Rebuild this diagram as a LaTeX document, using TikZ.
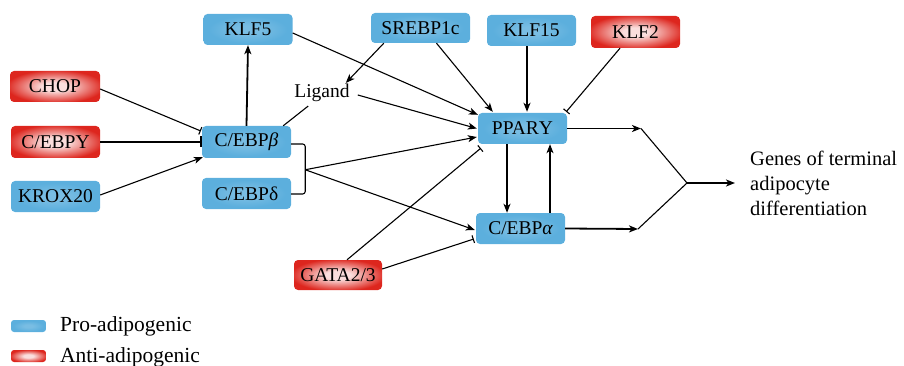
\documentclass[tikz,border=0pt]{standalone}
\usepackage{fontspec}
\setmainfont{Liberation Serif}
\usetikzlibrary{arrows.meta,calc}
\definecolor{myblue}{RGB}{92,175,221}
\definecolor{myred}{RGB}{221,38,30}
\colorlet{blueglowc}{myblue!82!white}
\colorlet{redglowc}{myred!15!white}
\pgfdeclareradialshading{bglow}{\pgfpoint{0bp}{0bp}}{color(0bp)=(blueglowc); color(6bp)=(blueglowc); color(22bp)=(myblue); color(50bp)=(myblue)}
\pgfdeclareradialshading{rglow}{\pgfpoint{0bp}{0bp}}{color(0bp)=(redglowc); color(7bp)=(redglowc); color(27bp)=(myred); color(50bp)=(myred)}
\newcommand\myNodeFont{\fontsize{19.5}{21}\selectfont}
\newcommand\myTextFont{\fontsize{20.5}{25}\selectfont}
\newcommand\myLegFont{\fontsize{21.5}{25}\selectfont}
\begin{document}
\begin{tikzpicture}[x=1pt,y=-1pt,
  boxbase/.style={rounded corners=4pt, inner sep=0pt, text=black, font=\myNodeFont,
                  minimum width=89pt, minimum height=31pt},
  pro/.style={boxbase, shade, shading=bglow},
  anti/.style={boxbase, shade, shading=rglow},
  plain/.style={line width=1.1pt},
  act/.style={-{Stealth[length=9pt,width=7pt,inset=2.5pt]}, line width=1.1pt},
  actthick/.style={-{Stealth[length=9pt,width=7pt,inset=2.5pt]}, line width=1.8pt},
  inh/.style={-{Bar[width=8pt,line width=1.1pt]}, line width=1.1pt},
  inhthick/.style={-{Bar[width=11pt,line width=1.8pt]}, line width=1.8pt}
]
\useasboundingbox (0,0) rectangle (904,366);

% nodes
\node[pro] (klf5) at (248,29.5) {KLF5};
\node[pro, minimum width=99pt, minimum height=30pt] (srebp) at (420.5,28) {SREBP1c};
\node[pro] (klf15) at (531.5,30.5) {KLF15};
\node[anti, minimum height=32pt] (klf2) at (635.5,32) {KLF2};
\node[anti, minimum width=90pt] (chop) at (55,86.5) {CHOP};
\node[anti, minimum height=32pt] (cebpg) at (55.5,142) {C/EBPΥ};
\node[pro] (krox) at (55.5,196.5) {KROX20};
\node[pro, minimum height=32pt] (cebpb) at (246.5,142) {C/EBP{\itshape β}};
\node[pro] (cebpd) at (246.5,193.5) {C/EBPδ};
\node[pro] (ppar) at (522.5,128.5) {PPARΥ};
\node[pro] (cebpa) at (520.5,228.5) {C/EBP{\itshape α}};
\node[anti, minimum width=88pt, minimum height=30pt] (gata) at (338,275) {GATA2/3};
\node[font=\myNodeFont, inner sep=0pt] (ligand) at (322,93) {Ligand};
\node[font=\myTextFont, inner sep=0pt, anchor=west, align=left] (genes) at (750,183)
  {Genes of terminal\\adipocyte\\differentiation};

% legend
\node[pro, minimum width=35pt, minimum height=12pt, rounded corners=3pt] (lp) at (28.5,326) {};
\node[anti, minimum width=35pt, minimum height=12pt, rounded corners=3pt] (la) at (28.5,356) {};
\node[font=\myLegFont, inner sep=0pt, anchor=base west] (lpt) at (60,331.5) {Pro-adipogenic};
\node[font=\myLegFont, inner sep=0pt, anchor=base west] (lat) at (60,362) {Anti-adipogenic};

% helper coordinates
\coordinate (br) at ($(cebpb.east)!0.5!(cebpd.east)+(14,2)$);
\coordinate (j1) at (641,128.5);
\coordinate (j2) at (638,229);
\coordinate (jm) at (687,183);
\coordinate (gin) at ($(genes.west)+(-15,0)$);

% left inputs to C/EBPbeta
\draw[inh] ($(chop.east)+(0,2.5)$) -- ($(cebpb.west)+(-1,-11)$);
\draw[inhthick] (cebpg.east) -- (cebpb.west);
\draw[act] ($(krox.east)+(0,-1.5)$) -- ($(cebpb.south west)+(1,-1)$);
\draw[actthick] (cebpb.north) -- (klf5.south);
\draw[plain] ($(cebpb.north east)+(-8,0)$) -- ($(ligand.south west)+(14,4)$);

% bracket
\draw[plain, rounded corners=2.5pt] ($(cebpb.east)+(0,2)$) -- ($(cebpb.east)+(14,2)$)
  -- ($(cebpd.east)+(14,0.5)$) -- ($(cebpd.east)+(0,0.5)$);

% inputs to PPARgamma
\draw[act] ($(srebp.south west)+(13,0)$) -- ($(ligand.north east)+(-4,-1)$);
\draw[act] ($(klf5.east)+(0,3.5)$) -- ($(ppar.north west)+(0,2)$);
\draw[act] ($(ligand.east)+(8,2)$) -- ($(ppar.west)+(-1,0)$);
\draw[act] ($(srebp.south)+(16,0)$) -- ($(ppar.north west)+(15,-1)$);
\draw[actthick] ($(klf15.south)+(-4.5,0)$) -- ($(ppar.north)+(4.5,-1)$);
\draw[inh] ($(klf2.south)+(-15.5,0)$) -- ($(ppar.north east)+(-1,-1)$);
\draw[act] (br) -- ($(ppar.west)+(-1,8.5)$);
\draw[act] (br) -- ($(cebpa.west)+(-1,1.5)$);
\draw[inh] ($(gata.north)+(9,0)$) -- ($(ppar.south west)+(3,4)$);
\draw[inh] ($(gata.east)+(0,-6)$) -- ($(cebpa.west)+(-2,10.5)$);

% PPAR <-> C/EBPalpha
\draw[actthick] ($(ppar.south)+(-15.5,0)$) -- ($(cebpa.north)+(-13.5,0)$);
\draw[act] ($(cebpa.north)+(29.5,0)$) -- ($(ppar.south)+(27.5,0)$);

% outputs
\draw[actthick] (ppar.east) -- (j1);
\draw[actthick] (cebpa.east) -- (j2);
\draw[plain] (j1) -- (jm) -- (j2);
\draw[actthick] (jm) -- (gin);
\end{tikzpicture}
\end{document}
